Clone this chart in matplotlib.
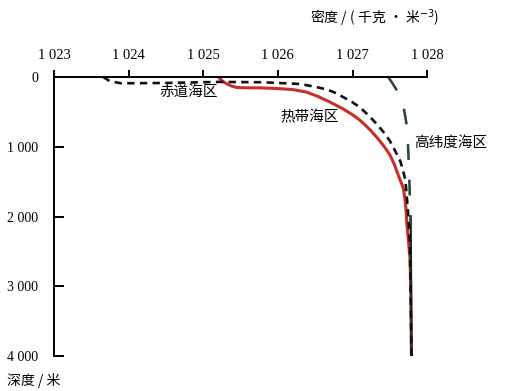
import matplotlib
matplotlib.use("Agg")
import matplotlib.pyplot as plt

# density axis (kg/m^3) and depth axis (m)
density_ticks = [1023, 1024, 1025, 1026, 1027, 1028]
depth_ticks = [0, 1000, 2000, 3000, 4000]

# equatorial zone (black short dashes)
eq_density = [1023.66, 1023.75, 1023.9, 1024.5, 1025.2, 1025.8, 1026.3, 1026.5, 1026.66,
              1026.78, 1026.87, 1026.99, 1027.10, 1027.22, 1027.33, 1027.42, 1027.50,
              1027.57, 1027.64, 1027.68, 1027.71, 1027.73, 1027.75, 1027.77, 1027.79]
eq_depth = [0, 60, 90, 85, 70, 75, 100, 140, 180,
            230, 285, 355, 435, 555, 680, 795, 915,
            1055, 1205, 1350, 1490, 1750, 2020, 2400, 4000]

# tropical zone (red solid)
trop_density = [1025.20, 1025.26, 1025.32, 1025.38, 1025.45, 1025.6, 1025.76, 1026.0,
                1026.20, 1026.38, 1026.53, 1026.70, 1026.87, 1027.0, 1027.10, 1027.22,
                1027.33, 1027.42, 1027.50, 1027.56, 1027.61, 1027.68, 1027.71, 1027.73,
                1027.75, 1027.77, 1027.78, 1027.79]
trop_depth = [0, 60, 100, 130, 150, 155, 155, 165,
              180, 215, 275, 360, 455, 540, 620, 740,
              870, 990, 1115, 1250, 1400, 1590, 1800, 2120,
              2350, 2600, 3000, 4000]

# high latitude zone (dark long dashes)
hl_density = [1027.48, 1027.53, 1027.60, 1027.68, 1027.72, 1027.745, 1027.76, 1027.77, 1027.78]
hl_depth = [0, 80, 200, 400, 650, 1000, 1400, 1800, 2100]
hl_deep_density = [1027.78, 1027.79]
hl_deep_depth = [2000, 4000]

cjk = ['Noto Sans CJK SC', 'DejaVu Sans']
num_font = 'Liberation Serif'


def fmt(v):
    return f"{v:,}".replace(",", " ")


def main():
    fig = plt.figure(figsize=(5.14, 3.91), dpi=100)
    ax = fig.add_axes([0.105, 0.0895, 0.726, 0.7135])

    ax.plot(trop_density, trop_depth, color='#c62f2a', lw=2.2, solid_capstyle='butt')
    ax.plot(hl_deep_density, hl_deep_depth, color='#1e2a24', lw=1.6)
    ax.plot(eq_density, eq_depth, color='#111111', lw=1.9, linestyle=(0, (2.8, 2.0)))
    ax.plot(hl_density, hl_depth, color='#2c4a3c', lw=1.9, linestyle=(0, (6, 7.5)))

    ax.set_xlim(1023, 1028)
    ax.set_ylim(4000, 0)

    for s in ['right', 'bottom']:
        ax.spines[s].set_visible(False)
    for s in ['top', 'left']:
        ax.spines[s].set_linewidth(1.4)

    ax.xaxis.tick_top()
    ax.set_xticks(density_ticks)
    ax.set_xticklabels([fmt(v) for v in density_ticks], fontfamily=num_font, fontsize=10.5)
    ax.tick_params(axis='x', direction='out', length=5, width=1.4, pad=6)

    ax.set_yticks(depth_ticks)
    ax.set_yticklabels([fmt(v) for v in depth_ticks], fontfamily=num_font, fontsize=10)
    ax.tick_params(axis='y', direction='in', length=7, width=1.4, pad=11.5)

    ax.text(1024.81, 215, '赤道海区', family=cjk, fontsize=10.5, ha='center', va='center')
    ax.text(1026.43, 573, '热带海区', family=cjk, fontsize=10.5, ha='center', va='center')
    ax.text(1028.31, 946, '高纬度海区', family=cjk, fontsize=10.5, ha='center', va='center',
            clip_on=False)

    fig.text(310 / 514, 1 - 18 / 391, '密度 / ( 千克 · 米$^{-3}$)', family=cjk, fontsize=10,
             ha='left', va='center')
    fig.text(7 / 514, 1 - 381 / 391, '深度 / 米', family=cjk, fontsize=10,
             ha='left', va='center')

    fig.savefig('out.png', dpi=100)


if __name__ == "__main__":
    main()
